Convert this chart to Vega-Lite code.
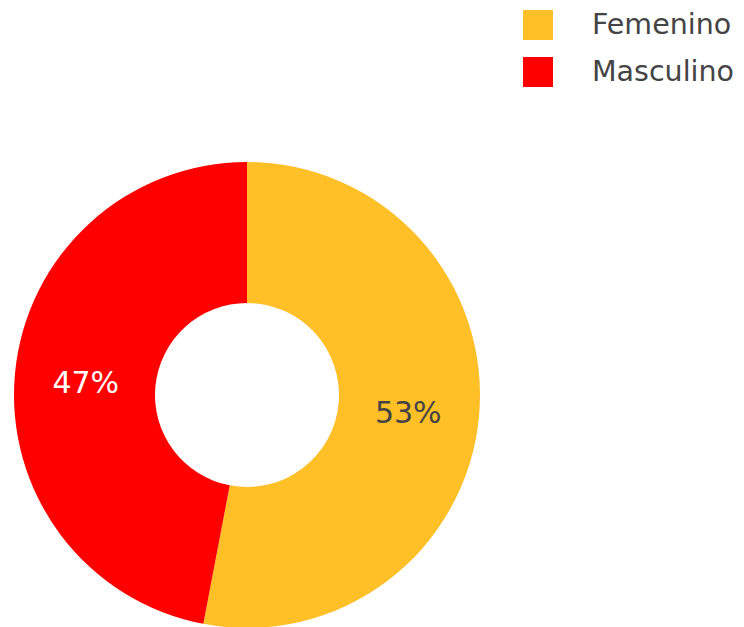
{
  "$schema": "https://vega.github.io/schema/vega-lite/v6.json",
  "autosize": {"type": "none"},
  "padding": {"left": 14, "top": 162, "right": 264, "bottom": 0},
  "width": 466,
  "height": 466,
  "background": "white",
  "config": {"view": {"stroke": null}, "font": "DejaVu Sans"},
  "data": {"values": [
    {"sexo": "Femenino", "proporcion": 0.53},
    {"sexo": "Masculino", "proporcion": 0.47}
  ]},
  "encoding": {
    "theta": {"field": "proporcion", "type": "quantitative", "stack": true},
    "order": {"field": "sexo", "sort": "ascending"}
  },
  "layer": [
    {
      "mark": {"type": "arc", "innerRadius": 92, "outerRadius": 233},
      "encoding": {
        "color": {
          "field": "sexo",
          "type": "nominal",
          "scale": {"domain": ["Femenino", "Masculino"], "range": ["#FFBF27", "#FF0000"]},
          "legend": {
            "title": null,
            "orient": "none",
            "legendX": 509,
            "legendY": -152,
            "padding": 0,
            "symbolType": "square",
            "symbolSize": 900,
            "symbolStrokeWidth": 0,
            "symbolOpacity": 1,
            "labelFontSize": 28.5,
            "labelFont": "DejaVu Sans",
            "labelColor": "#444444",
            "labelOffset": 39,
            "labelBaseline": "middle",
            "labelDy": 3,
            "rowPadding": 17
          }
        }
      }
    },
    {
      "mark": {"type": "text", "radius": 162, "fontSize": 30, "font": "DejaVu Sans", "align": "center", "baseline": "middle", "dy": 4},
      "encoding": {
        "text": {"field": "proporcion", "type": "quantitative", "format": ".0%"},
        "color": {"condition": {"test": "datum.sexo === 'Masculino'", "value": "white"}, "value": "#444444"}
      }
    }
  ]
}
